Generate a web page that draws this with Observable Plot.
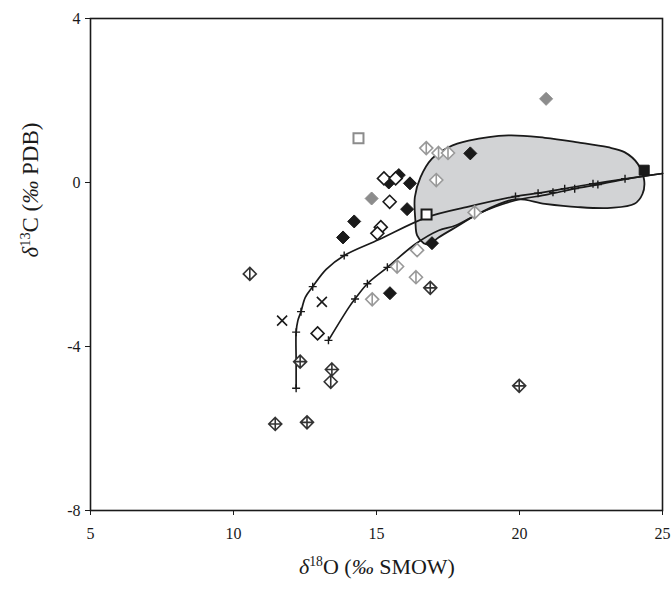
<!DOCTYPE html>
<html>
<head>
<meta charset="utf-8">
<script src="https://cdn.jsdelivr.net/npm/d3@7"></script>
<script src="https://cdn.jsdelivr.net/npm/@observablehq/plot@0.6"></script>
<style>
  html, body { margin: 0; padding: 0; background: #fff; }
  #chart { width: 671px; height: 601px; }
</style>
</head>
<body>
<div id="chart"></div>
<script>
// ---- data (δ18O ‰ SMOW, δ13C ‰ PDB) ----
const xTicks = [5, 10, 15, 20, 25];
const yTicks = [-8, -4, 0, 4];

const envelope = [
  [16.83,-1.51],[16.65,-1.48],[16.42,-1.29],[16.36,-0.93],[16.34,-0.36],[16.54,0.13],
  [16.94,0.58],[17.52,0.86],[18.22,1.02],[19.61,1.15],[20.89,1.09],[22.04,0.98],
  [23.09,0.86],[23.67,0.74],[24.13,0.46],[24.36,0.05],[24.30,-0.28],[24.02,-0.52],
  [23.19,-0.62],[22.04,-0.60],[20.89,-0.52],[19.84,-0.41],[18.57,-0.76],[17.87,-1.05],[17.17,-1.34]
];

const mixingCurve1 = [
  [12.19,-5.02],[12.19,-4.34],[12.19,-3.65],[12.25,-3.37],[12.36,-3.15],[12.51,-2.80],
  [12.77,-2.54],[13.24,-2.12],[13.87,-1.78],[15.09,-1.39],[16.76,-0.85],[18.22,-0.59],
  [19.86,-0.34],[20.65,-0.26],[21.58,-0.15],[22.57,-0.03],[23.69,0.09],[25.0,0.22]
];
const mixingCurve2 = [
  [13.32,-3.85],[14.04,-3.04],[14.25,-2.84],[14.68,-2.47],[15.38,-2.07],[16.36,-1.50],
  [17.17,-1.17],[17.76,-1.05],[18.57,-0.76],[19.15,-0.59],[19.84,-0.44],[21.0,-0.29],
  [21.93,-0.15],[22.74,-0.05],[23.78,0.09],[25.0,0.22]
];
const curveTicks = [
  [12.19,-5.02],[12.19,-3.65],[12.36,-3.15],[12.77,-2.54],[13.87,-1.78],
  [19.86,-0.34],[20.65,-0.26],[21.58,-0.15],[22.57,-0.03],[23.69,0.09],
  [13.32,-3.85],[14.25,-2.84],[14.68,-2.47],[15.38,-2.07],[21.17,-0.24],[21.93,-0.15],[22.74,-0.05]
];

const blackFilledDiamonds = [
  [15.43,0.00],[15.78,0.18],[16.17,-0.02],[18.28,0.71],[16.07,-0.65],
  [14.22,-0.95],[13.83,-1.34],[16.94,-1.48],[15.47,-2.70]
];
const blackOpenDiamonds = [
  [15.26,0.10],[15.67,0.10],[15.46,-0.47],[15.15,-1.09],[15.03,-1.24],[12.94,-3.68]
];
const grayFilledDiamonds = [[14.83,-0.39],[20.93,2.04]];
const grayOpenDiamonds = [[16.42,-1.65]];
const grayBarDiamonds = [
  [16.74,0.84],[17.17,0.72],[17.50,0.72],[17.09,0.06],[18.43,-0.73],
  [15.72,-2.05],[16.38,-2.31],[14.85,-2.85]
];
const blackBarDiamonds = [[10.57,-2.23],[13.40,-4.86]];
const crossedDiamonds = [
  [12.33,-4.37],[13.44,-4.56],[11.46,-5.89],[12.57,-5.85],[16.88,-2.57],[19.99,-4.96]
];
const crosses = [[13.09,-2.91],[11.70,-3.37]];
const grayOpenSquares = [[14.37,1.08]];
const blackOpenSquares = [[16.75,-0.78]];
const blackFilledSquares = [[24.36,0.30]];

// ---- symbols ----
const R = 6.5;
const dpath = (c, r) => { c.moveTo(0,-r); c.lineTo(r,0); c.lineTo(0,r); c.lineTo(-r,0); c.closePath(); };
const symDiamond = {draw(c){ dpath(c, R); }};
const symBar = {draw(c){ dpath(c, R); c.moveTo(0,-R); c.lineTo(0,R); }};
const symCrossD = {draw(c){ dpath(c, R); c.moveTo(0,-R); c.lineTo(0,R); c.moveTo(-R,0); c.lineTo(R,0); }};
const symSquare = {draw(c){ c.moveTo(-5,-5); c.lineTo(5,-5); c.lineTo(5,5); c.lineTo(-5,5); c.closePath(); }};
const symX = {draw(c){ c.moveTo(-5,-5); c.lineTo(5,5); c.moveTo(5,-5); c.lineTo(-5,5); }};
const symPlus = {draw(c){ c.moveTo(-4,0); c.lineTo(4,0); c.moveTo(0,-4); c.lineTo(0,4); }};

const X = d => d[0], Y = d => d[1];
const INK = "#1a1a1a", GRAY = "#999999";

const chart = Plot.plot({
  width: 671,
  height: 601,
  marginLeft: 90,
  marginRight: 9,
  marginTop: 18,
  marginBottom: 91,
  style: {fontFamily: "'Liberation Serif', 'Times New Roman', serif", fontSize: "16px", color: INK, background: "#fff"},
  x: {domain: [5, 25], ticks: xTicks, tickSize: 5, tickPadding: 12, tickFormat: d => `${d}`, label: null},
  y: {domain: [-8, 4], ticks: yTicks, tickSize: 5, tickPadding: 5, tickFormat: d => `${d}`, label: null},
  marks: [
    Plot.line(envelope, {x: X, y: Y, curve: "catmull-rom-closed", fill: "#d2d3d5", stroke: INK, strokeWidth: 1.8}),
    Plot.line(mixingCurve1, {x: X, y: Y, curve: "catmull-rom", stroke: INK, strokeWidth: 1.7}),
    Plot.line(mixingCurve2, {x: X, y: Y, curve: "catmull-rom", stroke: INK, strokeWidth: 1.7}),
    Plot.dot(curveTicks, {x: X, y: Y, symbol: symPlus, stroke: INK, strokeWidth: 1.4}),
    Plot.dot(grayFilledDiamonds, {x: X, y: Y, symbol: symDiamond, fill: "#8c8c8c", stroke: "#8c8c8c", strokeWidth: 1}),
    Plot.dot(blackFilledDiamonds, {x: X, y: Y, symbol: symDiamond, fill: INK, stroke: INK, strokeWidth: 1}),
    Plot.dot(blackOpenDiamonds, {x: X, y: Y, symbol: symDiamond, fill: "#fff", stroke: INK, strokeWidth: 1.6}),
    Plot.dot(grayOpenDiamonds, {x: X, y: Y, symbol: symDiamond, fill: "#fff", stroke: GRAY, strokeWidth: 1.6}),
    Plot.dot(grayBarDiamonds, {x: X, y: Y, symbol: symBar, fill: "#fff", stroke: GRAY, strokeWidth: 1.6}),
    Plot.dot(blackBarDiamonds, {x: X, y: Y, symbol: symBar, fill: "#fff", stroke: "#333", strokeWidth: 1.6}),
    Plot.dot(crossedDiamonds, {x: X, y: Y, symbol: symCrossD, fill: "#fff", stroke: "#333", strokeWidth: 1.6}),
    Plot.dot(crosses, {x: X, y: Y, symbol: symX, stroke: INK, strokeWidth: 1.6}),
    Plot.dot(grayOpenSquares, {x: X, y: Y, symbol: symSquare, fill: "#fff", stroke: "#8c8c8c", strokeWidth: 2}),
    Plot.dot(blackOpenSquares, {x: X, y: Y, symbol: symSquare, fill: "#fff", stroke: INK, strokeWidth: 2}),
    Plot.dot(blackFilledSquares, {x: X, y: Y, symbol: symSquare, fill: INK, stroke: INK, strokeWidth: 1}),
    Plot.frame({stroke: INK, strokeWidth: 1.6})
  ]
});

document.getElementById("chart").appendChild(chart);

// axis titles with superscripts
const svg = d3.select(chart);
function label(sel, parts) {
  for (const p of parts) {
    const t = sel.append("tspan").text(p.t);
    if (p.i) t.attr("font-style", "italic");
    if (p.sup) t.attr("font-size", "0.62em").attr("dy", "-0.55em");
    if (p.down) t.attr("dy", "0.34em");
  }
}
const xl = svg.append("text")
  .attr("x", 377).attr("y", 574)
  .attr("text-anchor", "middle")
  .attr("font-size", "22px")
  .attr("fill", INK);
label(xl, [{t: "δ", i: true}, {t: "18", sup: true}, {t: "O (", down: true}, {t: "‰", i: true}, {t: " SMOW)"}]);

const yl = svg.append("text")
  .attr("transform", "translate(38,190) rotate(-90)")
  .attr("text-anchor", "middle")
  .attr("font-size", "23px")
  .attr("fill", INK);
label(yl, [{t: "δ", i: true}, {t: "13", sup: true}, {t: "C (", down: true}, {t: "‰", i: true}, {t: " PDB)"}]);
</script>
</body>
</html>
